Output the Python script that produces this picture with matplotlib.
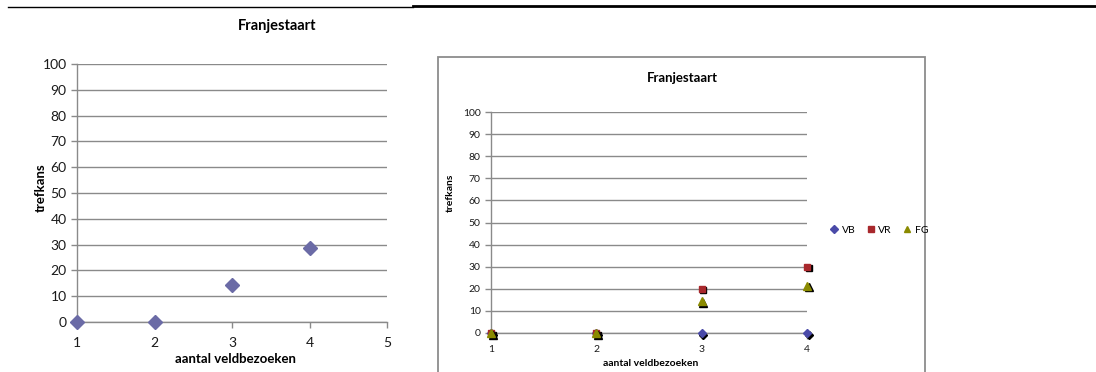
import matplotlib
matplotlib.use("Agg")
import matplotlib.pyplot as plt
import matplotlib.patches as mpatches
import matplotlib.lines as mlines
from matplotlib.transforms import ScaledTranslation

plt.rcParams["font.family"] = ["Lato", "DejaVu Sans"]

# --- data ---
visits = [1, 2, 3, 4]
trefkans = [0, 0, 14.29, 28.57]

vb = [0, 0, 0, 0]
vr = [0, 0, 20, 30]
fg = [0, 0, 14.29, 21.43]

yticks = list(range(0, 101, 10))
left_xticks = [1, 2, 3, 4, 5]

GRID = "#8a8a8a"
W, H = 1096, 372

fig = plt.figure(figsize=(W / 100, H / 100), dpi=100)
fig.patch.set_facecolor("white")


def fx(px):
    return px / W


def fy(py):
    return 1 - py / H


# top rule across the page
fig.add_artist(mlines.Line2D([fx(8), fx(413)], [fy(7), fy(7)], color="black", lw=1.0))
fig.add_artist(mlines.Line2D([fx(413), fx(1096)], [fy(6), fy(6)], color="black", lw=2.0))


def style_axes(ax, tick_size):
    ax.set_ylim(0, 100)
    ax.set_yticks(yticks)
    ax.grid(axis="y", color=GRID, lw=1.0)
    ax.set_axisbelow(True)
    for s in ["top", "right"]:
        ax.spines[s].set_visible(False)
    for s in ["left", "bottom"]:
        ax.spines[s].set_color(GRID)
        ax.spines[s].set_linewidth(1.0)
    ax.tick_params(axis="both", colors=GRID, labelcolor="#1a1a1a",
                   labelsize=tick_size, length=4, width=1.0)


# --- left chart ---
ax1 = fig.add_axes([fx(77), fy(322), fx(387) - fx(77), fy(64) - fy(322)])
style_axes(ax1, 10)
ax1.set_xlim(1, 5)
ax1.set_xticks(left_xticks)
ax1.tick_params(axis="x", pad=7)
ax1.plot(visits, trefkans, ls="none", marker="D", ms=7.5,
         color="#6b6ba6", mec="#6b6ba6", clip_on=False, zorder=5)
fig.text(fx(277), fy(26), "Franjestaart", ha="center", va="center",
         fontsize=10.5, fontweight="bold")
fig.text(fx(235), fy(359), "aantal veldbezoeken", ha="center", va="center",
         fontsize=9.5, fontweight="bold")
fig.text(fx(41), fy(188), "trefkans", ha="center", va="center",
         rotation=90, fontsize=9.5, fontweight="bold")

# --- right chart, framed ---
fig.add_artist(mpatches.Rectangle((fx(438), -0.02), fx(925) - fx(438), fy(57) + 0.02,
                                  transform=fig.transFigure, fill=False,
                                  ec="#8c8c8c", lw=1.3))
ax2 = fig.add_axes([fx(491), fy(333), fx(807) - fx(491), fy(112) - fy(333)])
style_axes(ax2, 7.5)
ax2.set_xlim(1, 4)
ax2.set_xticks(visits)
ax2.tick_params(axis="x", pad=5)

shadow = ax2.transData + ScaledTranslation(1.2 / 72, -1.2 / 72, fig.dpi_scale_trans)
series = [
    ("VB", vb, "D", 4.5, "#4a4aa8"),
    ("VR", vr, "s", 5, "#a8282c"),
    ("FG", fg, "^", 6, "#8a8a00"),
]
handles = []
for i, (name, vals, mk, ms, col) in enumerate(series):
    ax2.plot(visits, vals, ls="none", marker=mk, ms=ms, color="black",
             transform=shadow, clip_on=False, zorder=4 + i)
    ax2.plot(visits, vals, ls="none", marker=mk, ms=ms, color=col,
             clip_on=False, zorder=4.5 + i)
    handles.append(mlines.Line2D([], [], ls="none", marker=mk, ms=ms * 0.8,
                                 color=col, label=name))

fig.text(fx(682), fy(78), "Franjestaart", ha="center", va="center",
         fontsize=9.5, fontweight="bold")
fig.text(fx(651), fy(363), "aantal veldbezoeken", ha="center", va="center",
         fontsize=7.5, fontweight="bold")
fig.text(fx(450), fy(193), "trefkans", ha="center", va="center",
         rotation=90, fontsize=7.5, fontweight="bold")

fig.legend(handles=handles, loc="center left", bbox_to_anchor=(fx(825), fy(230)),
           ncol=3, frameon=False, fontsize=7.5, handletextpad=0.2,
           columnspacing=1.0, handlelength=1.0, borderaxespad=0)

fig.savefig("out.png", dpi=100, facecolor="white")
